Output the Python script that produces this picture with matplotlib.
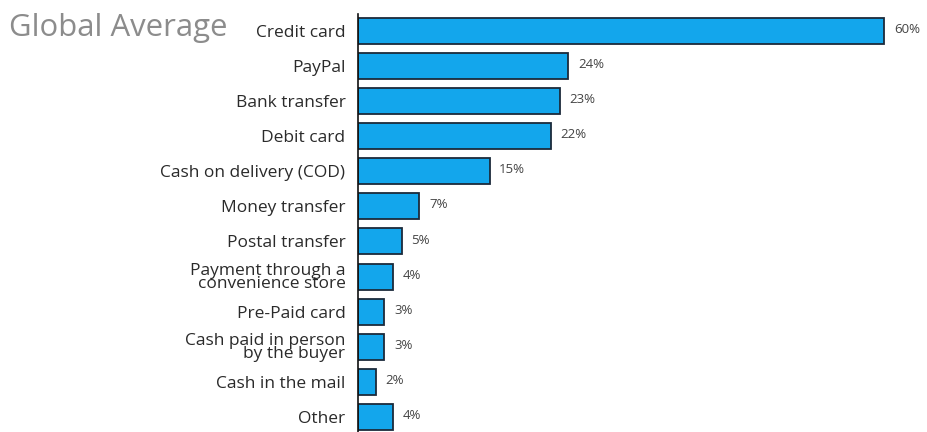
import matplotlib.pyplot as plt

# ----------- DATA -----------
methods = [
    "Credit card", "PayPal", "Bank transfer", "Debit card",
    "Cash on delivery (COD)", "Money transfer", "Postal transfer",
    "Payment through a\nconvenience store", "Pre-Paid card",
    "Cash paid in person\nby the buyer", "Cash in the mail", "Other",
]
shares = [60, 24, 23, 22, 15, 7, 5, 4, 3, 3, 2, 4]

BAR_COLOR = "#13a6ec"
EDGE_COLOR = "#1b2a3a"
LABEL_COLOR = "#2a2a2a"
TITLE_COLOR = "#8c8c8c"

plt.rcParams["font.family"] = ["Open Sans", "DejaVu Sans"]

fig = plt.figure(figsize=(9.28, 4.32), dpi=100)
ax = fig.add_axes([358 / 928, 0.0, 1 - 358 / 928, 1 - 14 / 432])

ypos = list(range(len(methods)))
ax.barh(ypos, shares, height=0.74, color=BAR_COLOR,
        edgecolor=EDGE_COLOR, linewidth=1.3)

ax.set_xlim(0, 65)
ax.set_ylim(11.43, -0.48)
ax.set_yticks(ypos)
ax.set_yticklabels(methods, fontsize=12.5, color=LABEL_COLOR,
                   linespacing=0.8)
ax.tick_params(axis="y", length=0, pad=9)
ax.set_xticks([])

for side in ("top", "right", "bottom"):
    ax.spines[side].set_visible(False)
ax.spines["left"].set_color("#111111")
ax.spines["left"].set_linewidth(1.2)

# value labels just right of each bar
for y, v in zip(ypos, shares):
    ax.annotate(f"{v}%", xy=(v, y), xytext=(7, 1), textcoords="offset points",
                va="center", ha="left", fontsize=9.5, color="#444444",
                annotation_clip=False)

fig.text(9 / 928, 1 - 28 / 432, "Global Average", fontsize=22.4,
         color=TITLE_COLOR, ha="left", va="center")

fig.savefig("out.png", dpi=100)
